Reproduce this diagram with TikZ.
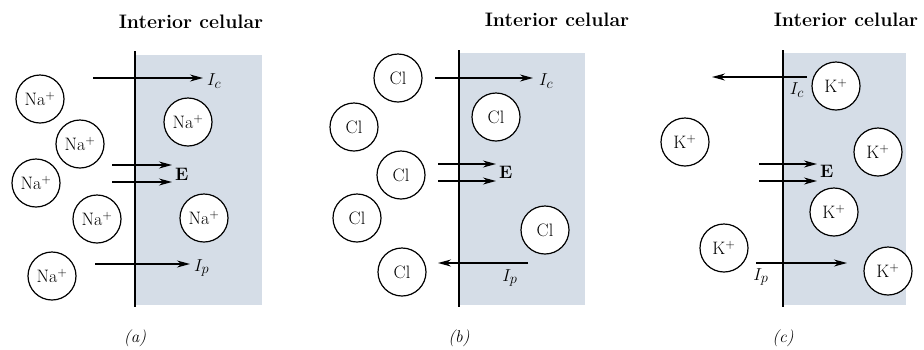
\documentclass[tikz,border=0pt]{standalone}
\usepackage{fontspec}
\usetikzlibrary{arrows.meta}
\definecolor{cellshade}{HTML}{D5DDE7}
\begin{document}
\begin{tikzpicture}[x=1pt,y=-1pt,
  ion/.style={circle,draw,line width=1.2pt,minimum size=48pt,inner sep=0pt,font=\fontsize{18}{18}\selectfont},
  ionin/.style={ion,fill=white},
  membrane/.style={line width=2.8pt},
  flow/.style={line width=1.3pt,-{Stealth[length=13pt,width=7pt]}},
  title/.style={font=\fontsize{19.5}{19.5}\selectfont\bfseries},
  curlbl/.style={font=\fontsize{19}{19}\selectfont,inner sep=0pt},
  elbl/.style={font=\fontsize{18}{18}\selectfont\bfseries,inner sep=0pt,anchor=west},
  sub/.style={font=\fontsize{17}{17}\selectfont}]
\useasboundingbox (0,0) rectangle (924,349);

% ---------------- panel (a)
\fill[cellshade] (135,55) rectangle (262,305);
\node[title] (ta) at (191,22) {Interior celular};
\coordinate (ma1) at (135,51); \coordinate (ma2) at (135,307);
\draw[membrane] (ma1) -- (ma2);
\coordinate (aic1) at (93,78); \coordinate (aic2) at (203,78);
\draw[flow] (aic1) -- (aic2);
\node[curlbl,anchor=west] (aicl) at (207,81) {$I_c$};
\node[ion] (na1) at (40,99) {Na\textsuperscript{+}};
\node[ion] (na2) at (80,144) {Na\textsuperscript{+}};
\node[ion] (na3) at (36,183) {Na\textsuperscript{+}};
\node[ion] (na4) at (97,219) {Na\textsuperscript{+}};
\node[ion] (na5) at (52,276) {Na\textsuperscript{+}};
\node[ionin] (na6) at (188,122) {Na\textsuperscript{+}};
\node[ionin] (na7) at (204,218) {Na\textsuperscript{+}};
\coordinate (ae1) at (112,165); \coordinate (ae2) at (172,165);
\coordinate (ae3) at (112,182); \coordinate (ae4) at (172,182);
\draw[flow] (ae1) -- (ae2);
\draw[flow] (ae3) -- (ae4);
\node[elbl] (ael) at (175,174) {E};
\coordinate (aip1) at (95,264); \coordinate (aip2) at (190,264);
\draw[flow] (aip1) -- (aip2);
\node[curlbl,anchor=west] (aipl) at (194,268) {$I_p$};
\node[sub] (la) at (135,338) {\textit{(a)}};

% ---------------- panel (b)
\fill[cellshade] (460,53) rectangle (585,305);
\node[title] (tb) at (557,20) {Interior celular};
\coordinate (mb1) at (459,50); \coordinate (mb2) at (459,307);
\draw[membrane] (mb1) -- (mb2);
\coordinate (bic1) at (435,78); \coordinate (bic2) at (533,78);
\draw[flow] (bic1) -- (bic2);
\node[curlbl,anchor=west] (bicl) at (539,81) {$I_c$};
\node[ion] (cl1) at (398,78) {Cl};
\node[ion] (cl2) at (354,127) {Cl};
\node[ion] (cl3) at (401,175) {Cl};
\node[ion] (cl4) at (357,218) {Cl};
\node[ion] (cl5) at (402,272) {Cl};
\node[ionin] (cl6) at (496,117) {Cl};
\node[ionin] (cl7) at (545,230) {Cl};
\coordinate (be1) at (438,164); \coordinate (be2) at (496,164);
\coordinate (be3) at (438,181); \coordinate (be4) at (496,181);
\draw[flow] (be1) -- (be2);
\draw[flow] (be3) -- (be4);
\node[elbl] (bel) at (499,172) {E};
\coordinate (bip1) at (528,263); \coordinate (bip2) at (438,263);
\draw[flow] (bip1) -- (bip2);
\node[curlbl] (bipl) at (510,278) {$I_p$};
\node[sub] (lb) at (459,338) {\textit{(b)}};

% ---------------- panel (c)
\fill[cellshade] (784,53) rectangle (906,305);
\node[title] (tc) at (846,20) {Interior celular};
\coordinate (mc1) at (783,50); \coordinate (mc2) at (783,307);
\draw[membrane] (mc1) -- (mc2);
\coordinate (cic1) at (807,77); \coordinate (cic2) at (712,77);
\draw[flow] (cic1) -- (cic2);
\node[curlbl] (cicl) at (797,90) {$I_c$};
\node[ionin] (k1) at (836,86) {K\textsuperscript{+}};
\node[ionin] (k2) at (878,152) {K\textsuperscript{+}};
\node[ionin] (k3) at (834,212) {K\textsuperscript{+}};
\node[ionin] (k4) at (888,271) {K\textsuperscript{+}};
\node[ion] (k5) at (685,142) {K\textsuperscript{+}};
\node[ion] (k6) at (724,248) {K\textsuperscript{+}};
\coordinate (ce1) at (759,164); \coordinate (ce2) at (817,164);
\coordinate (ce3) at (759,181); \coordinate (ce4) at (817,181);
\draw[flow] (ce1) -- (ce2);
\draw[flow] (ce3) -- (ce4);
\node[elbl] (cel) at (820,171) {E};
\coordinate (cip1) at (756,263); \coordinate (cip2) at (847,263);
\draw[flow] (cip1) -- (cip2);
\node[curlbl] (cipl) at (761,277) {$I_p$};
\node[sub] (lc) at (783,338) {\textit{(c)}};
\end{tikzpicture}
\end{document}
